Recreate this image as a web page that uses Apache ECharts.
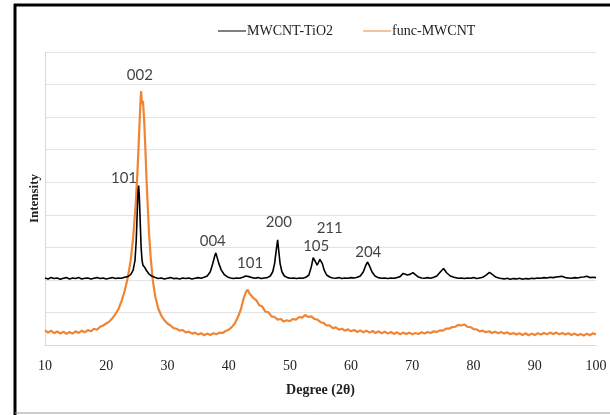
<!DOCTYPE html>
<html>
<head>
<meta charset="utf-8">
<script src="https://cdn.jsdelivr.net/npm/echarts@6/dist/echarts.min.js"></script>
<style>
  html, body { margin: 0; padding: 0; background: #fff; }
  #chart { width: 610px; height: 415px; }
</style>
</head>
<body>
<div id="chart"></div>
<script>
// XRD 图谱: [2θ, 强度]
const tio2Points = [
  [10, 2.06], [10.5, 2.03], [11, 2.07], [11.5, 2.04], [12, 2.06], [12.5, 2.02], [13, 2.05], [13.5, 2.07],
  [14, 2.03], [14.5, 2.06], [15, 2.04], [15.5, 2.07], [16, 2.03], [16.5, 2.05], [17, 2.06], [17.5, 2.03],
  [18, 2.05], [18.5, 2.07], [19, 2.04], [19.5, 2.06], [20, 2.03], [20.5, 2.05], [21, 2.07], [21.5, 2.04],
  [22, 2.06], [22.5, 2.05], [23, 2.08], [23.5, 2.1], [24, 2.16], [24.4, 2.3], [24.7, 2.6], [24.9, 3.2],
  [25.05, 4.0], [25.2, 4.75], [25.3, 4.9], [25.4, 4.6], [25.55, 3.8], [25.7, 3.0], [25.85, 2.6], [26.0, 2.45],
  [26.3, 2.38], [26.6, 2.28], [27.0, 2.18], [27.5, 2.11], [28, 2.07], [28.5, 2.04], [29, 2.06], [29.5, 2.03],
  [30, 2.05], [30.5, 2.07], [31, 2.04], [31.5, 2.05], [32, 2.03], [32.5, 2.06], [33, 2.04], [33.5, 2.06],
  [34, 2.03], [34.5, 2.05], [35, 2.07], [35.5, 2.05], [36, 2.08], [36.5, 2.12], [37, 2.25], [37.4, 2.5],
  [37.7, 2.72], [37.9, 2.83], [38.1, 2.7], [38.4, 2.5], [38.8, 2.3], [39.3, 2.16], [39.8, 2.09], [40.3, 2.06],
  [40.8, 2.04], [41.3, 2.06], [41.8, 2.05], [42.3, 2.08], [42.8, 2.12], [43.3, 2.1], [43.8, 2.07], [44.3, 2.05],
  [44.8, 2.07], [45.3, 2.04], [45.8, 2.06], [46.3, 2.07], [46.8, 2.12], [47.2, 2.25], [47.5, 2.5], [47.8, 2.95],
  [48.0, 3.23], [48.15, 2.95], [48.4, 2.5], [48.7, 2.25], [49.1, 2.12], [49.6, 2.07], [50.1, 2.05], [50.6, 2.06],
  [51.1, 2.04], [51.6, 2.06], [52.1, 2.05], [52.6, 2.08], [53.1, 2.15], [53.5, 2.4], [53.8, 2.68], [53.95, 2.72],
  [54.2, 2.55], [54.45, 2.45], [54.7, 2.55], [54.9, 2.63], [55.1, 2.62], [55.3, 2.5], [55.6, 2.3], [56, 2.15],
  [56.5, 2.09], [57, 2.06], [57.5, 2.05], [58, 2.07], [58.5, 2.04], [59, 2.06], [59.5, 2.05], [60, 2.07],
  [60.5, 2.06], [61, 2.08], [61.5, 2.12], [62, 2.25], [62.4, 2.45], [62.7, 2.55], [63, 2.43], [63.4, 2.25],
  [63.9, 2.12], [64.4, 2.07], [65, 2.05], [65.5, 2.06], [66, 2.04], [66.5, 2.06], [67, 2.05], [67.5, 2.07],
  [68, 2.1], [68.5, 2.2], [68.8, 2.23], [69.2, 2.15], [69.6, 2.17], [70.1, 2.22], [70.4, 2.2], [70.9, 2.1],
  [71.5, 2.06], [72, 2.05], [72.5, 2.07], [73, 2.05], [73.5, 2.08], [74, 2.12], [74.6, 2.25], [75.1, 2.35],
  [75.6, 2.22], [76.2, 2.12], [76.8, 2.08], [77.5, 2.05], [78, 2.06], [78.5, 2.04], [79, 2.06], [79.5, 2.05],
  [80, 2.07], [80.5, 2.04], [81, 2.06], [81.5, 2.08], [82, 2.14], [82.6, 2.23], [83.1, 2.16], [83.7, 2.08],
  [84.3, 2.05], [85, 2.03], [85.5, 2.05], [86, 2.02], [86.5, 2.04], [87, 2.03], [87.5, 2.05], [88, 2.02],
  [88.5, 2.04], [89, 2.03], [89.5, 2.05], [90, 2.04], [90.5, 2.06], [91, 2.05], [91.5, 2.07], [92, 2.06],
  [92.5, 2.08], [93, 2.07], [93.5, 2.09], [94, 2.1], [94.4, 2.11], [95, 2.07], [95.5, 2.06], [96, 2.05],
  [96.5, 2.07], [97, 2.06], [97.5, 2.08], [98, 2.09], [98.5, 2.11], [99, 2.07], [99.5, 2.08], [100, 2.07]
]

const funcPoints = [
  [10, 0.45], [10.5, 0.38], [11, 0.44], [11.5, 0.36], [12, 0.42], [12.5, 0.35], [13, 0.41], [13.5, 0.34],
  [14, 0.4], [14.5, 0.35], [15, 0.42], [15.5, 0.37], [16, 0.44], [16.5, 0.39], [17, 0.46], [17.5, 0.42],
  [18, 0.5], [18.5, 0.47], [19, 0.56], [19.5, 0.6], [20, 0.66], [20.5, 0.72], [21, 0.82], [21.5, 0.95],
  [22, 1.1], [22.5, 1.35], [23, 1.65], [23.5, 2.05], [24, 2.6], [24.4, 3.3], [24.8, 4.3], [25.1, 5.3],
  [25.4, 6.6], [25.6, 7.5], [25.7, 7.8], [25.85, 7.4], [26.0, 7.5], [26.2, 6.9], [26.4, 6.0], [26.6, 5.0],
  [26.8, 4.2], [27.0, 3.4], [27.3, 2.6], [27.6, 2.0], [28, 1.5], [28.5, 1.12], [29, 0.9], [29.5, 0.76],
  [30, 0.66], [30.5, 0.6], [31, 0.52], [31.5, 0.5], [32, 0.44], [32.5, 0.46], [33, 0.39], [33.5, 0.41],
  [34, 0.35], [34.5, 0.38], [35, 0.32], [35.5, 0.36], [36, 0.3], [36.5, 0.35], [37, 0.31], [37.5, 0.36],
  [38, 0.33], [38.5, 0.38], [39, 0.37], [39.5, 0.43], [40, 0.47], [40.5, 0.55], [41, 0.66], [41.5, 0.85],
  [42, 1.1], [42.4, 1.4], [42.8, 1.62], [43.1, 1.7], [43.4, 1.58], [43.7, 1.6], [44, 1.45], [44.5, 1.38],
  [45, 1.22], [45.5, 1.18], [46, 1.02], [46.5, 1.0], [47, 0.88], [47.5, 0.86], [48, 0.78], [48.5, 0.8],
  [49, 0.72], [49.5, 0.76], [50, 0.73], [50.5, 0.8], [51, 0.78], [51.5, 0.86], [52, 0.84], [52.5, 0.92],
  [53, 0.86], [53.5, 0.88], [54, 0.8], [54.5, 0.78], [55, 0.7], [55.5, 0.68], [56, 0.6], [56.5, 0.6],
  [57, 0.52], [57.5, 0.54], [58, 0.47], [58.5, 0.5], [59, 0.44], [59.5, 0.48], [60, 0.42], [60.5, 0.46],
  [61, 0.4], [61.5, 0.45], [62, 0.39], [62.5, 0.44], [63, 0.38], [63.5, 0.43], [64, 0.37], [64.5, 0.42],
  [65, 0.36], [65.5, 0.41], [66, 0.35], [66.5, 0.4], [67, 0.34], [67.5, 0.39], [68, 0.33], [68.5, 0.38],
  [69, 0.34], [69.5, 0.38], [70, 0.33], [70.5, 0.37], [71, 0.34], [71.5, 0.39], [72, 0.35], [72.5, 0.4],
  [73, 0.37], [73.5, 0.42], [74, 0.4], [74.5, 0.45], [75, 0.44], [75.5, 0.5], [76, 0.5], [76.5, 0.55],
  [77, 0.56], [77.5, 0.62], [78, 0.6], [78.5, 0.63], [79, 0.56], [79.5, 0.55], [80, 0.49], [80.5, 0.48],
  [81, 0.42], [81.5, 0.44], [82, 0.39], [82.5, 0.42], [83, 0.37], [83.5, 0.41], [84, 0.36], [84.5, 0.4],
  [85, 0.35], [85.5, 0.39], [86, 0.33], [86.5, 0.37], [87, 0.32], [87.5, 0.36], [88, 0.31], [88.5, 0.36],
  [89, 0.3], [89.5, 0.35], [90, 0.31], [90.5, 0.36], [91, 0.32], [91.5, 0.37], [92, 0.33], [92.5, 0.38],
  [93, 0.34], [93.5, 0.38], [94, 0.33], [94.5, 0.37], [95, 0.32], [95.5, 0.36], [96, 0.31], [96.5, 0.35],
  [97, 0.3], [97.5, 0.34], [98, 0.29], [98.5, 0.35], [99, 0.3], [99.5, 0.36], [100, 0.32]
]

// 峰标注 (晶面指数)
const peakLabels = ['002', '101', '004', '101', '200', '105', '211', '204']
const peakLabelX = [25.5, 22.9, 37.4, 43.5, 48.2, 54.3, 56.5, 62.8]
const peakLabelY = [8.3, 5.14, 3.2, 2.5, 3.78, 3.05, 3.6, 2.86]

const seriesNames = ['MWCNT-TiO2', 'func-MWCNT']
const seriesColors = ['#000000', '#EF8535']

const serif = '"Liberation Serif", "DejaVu Serif", serif'
const sans = 'Lato, "Open Sans", sans-serif'

const chart = echarts.init(document.getElementById('chart'))

const option = {
  backgroundColor: '#fff',
  animation: false,
  grid: {
    left: 45,
    right: 14,
    top: 52,
    bottom: 70
  },
  legend: {
    top: 19,
    left: 213,
    itemGap: 30,
    itemWidth: 28,
    itemHeight: 1,
    icon: 'rect',
    data: seriesNames,
    textStyle: {
      fontFamily: serif,
      fontSize: 14,
      color: '#222',
      padding: [0, 0, 0, -4]
    }
  },
  xAxis: {
    type: 'value',
    min: 10,
    max: 100,
    interval: 10,
    name: 'Degree (2θ)',
    nameLocation: 'middle',
    nameGap: 38,
    nameTextStyle: {
      fontFamily: serif,
      fontSize: 14,
      fontWeight: 'bold',
      color: '#222'
    },
    axisLine: { lineStyle: { color: '#d9d9d9' } },
    axisTick: { show: false },
    splitLine: { show: false },
    axisLabel: {
      margin: 14,
      fontFamily: serif,
      fontSize: 14,
      color: '#222'
    }
  },
  yAxis: {
    type: 'value',
    min: 0,
    max: 9,
    interval: 1,
    name: 'Intensity',
    nameLocation: 'middle',
    nameGap: 4,
    nameTextStyle: {
      fontFamily: serif,
      fontSize: 13,
      fontWeight: 'bold',
      color: '#222'
    },
    axisLine: { show: true, lineStyle: { color: '#d9d9d9' } },
    axisTick: { show: false },
    axisLabel: { show: false },
    splitLine: { lineStyle: { color: '#e3e3e3' } }
  },
  series: [
    {
      name: seriesNames[0],
      type: 'line',
      data: tio2Points,
      symbol: 'none',
      color: seriesColors[0],
      lineStyle: { width: 1.6, color: seriesColors[0] },
      z: 3
    },
    {
      name: seriesNames[1],
      type: 'line',
      data: funcPoints,
      symbol: 'none',
      color: seriesColors[1],
      lineStyle: { width: 2.2, color: seriesColors[1] },
      z: 2
    },
    {
      name: 'labels',
      type: 'scatter',
      symbolSize: 0,
      silent: true,
      data: peakLabels.map((t, i) => ({ name: t, value: [peakLabelX[i], peakLabelY[i]] })),
      label: {
        show: true,
        position: 'inside',
        formatter: '{b}',
        fontFamily: sans,
        fontSize: 15,
        color: '#111'
      },
      z: 5
    }
  ],
  graphic: [
    { type: 'line', shape: { x1: 15, y1: 4, x2: 15, y2: 415 }, style: { stroke: '#000', lineWidth: 3 } },
    { type: 'line', shape: { x1: 14, y1: 5, x2: 610, y2: 5 }, style: { stroke: '#000', lineWidth: 3 } },
    { type: 'line', shape: { x1: 15, y1: 413, x2: 610, y2: 413 }, style: { stroke: '#9a9a9a', lineWidth: 1 } }
  ]
}

chart.setOption(option)
</script>
</body>
</html>
